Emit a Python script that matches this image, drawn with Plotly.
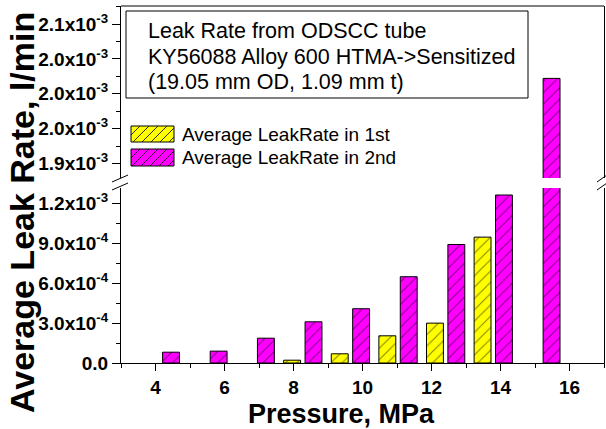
import plotly.graph_objects as go

# ---------------- data ----------------
pressure = [4.14, 5.52, 6.89, 8.27, 9.65, 11.03, 12.41, 13.79, 15.17]  # MPa
leak_1st = [None, None, None, 2.1e-5, 6.9e-5, 2.04e-4, 2.99e-4, 9.44e-4, None]
leak_2nd = [8.1e-5, 8.9e-5, 1.86e-4, 3.09e-4, 4.07e-4, 6.47e-4, 8.89e-4, 1.26e-3, 2.022e-3]

series_names = ["Average LeakRate in 1st", "Average LeakRate in 2nd"]
series_colors = ["#FFFF00", "#FF00FF"]

x_tickvals = [4, 6, 8, 10, 12, 14, 16]
x_minorvals = [3, 5, 7, 9, 11, 13, 15, 17]
lower_tickvals = [0, 3e-4, 6e-4, 9e-4, 1.2e-3]
lower_ticktext = ["0.0", "3.0x10<sup>-4</sup>", "6.0x10<sup>-4</sup>",
                  "9.0x10<sup>-4</sup>", "1.2x10<sup>-3</sup>"]
lower_minorvals = [1.5e-4, 4.5e-4, 7.5e-4, 1.05e-3]
upper_tickvals = [1.90e-3, 1.95e-3, 2.00e-3, 2.05e-3, 2.10e-3]
upper_ticktext = ["1.9x10<sup>-3</sup>", "2.0x10<sup>-3</sup>", "2.0x10<sup>-3</sup>",
                  "2.0x10<sup>-3</sup>", "2.1x10<sup>-3</sup>"]
upper_minorvals = [1.925e-3, 1.975e-3, 2.025e-3, 2.075e-3, 2.125e-3]

title_lines = ["Leak Rate from ODSCC tube",
               "KY56088 Alloy 600 HTMA->Sensitized",
               "(19.05 mm OD, 1.09 mm t)"]

# ---------------- geometry ----------------
W, H = 606, 429
ML, MR, MT, MB = 121, 2, 6, 66
PW, PH = W - ML - MR, H - MT - MB


def px(X):
    return (X - ML) / PW


def py(Y):
    return (H - MB - Y) / PH


FONT = "Arial, Liberation Sans, sans-serif"

fig = go.Figure()

for yax in ["y", "y2"]:
    for name, vals, col in zip(series_names, [leak_1st, leak_2nd], series_colors):
        fig.add_trace(go.Bar(
            x=pressure, y=vals, name=name, xaxis="x", yaxis=yax,
            showlegend=False,
            marker=dict(color=col, line=dict(color="black", width=1),
                        pattern=dict(shape="/", fgcolor="black", bgcolor=col,
                                     size=8, solidity=0.12)),
        ))

ytickfont = dict(family=FONT, size=19, color="black", weight="bold")
xtickfont = dict(family=FONT, size=19, color="black", weight="bold")

fig.update_layout(
    width=W, height=H,
    margin=dict(l=ML, r=MR, t=MT, b=MB),
    paper_bgcolor="white", plot_bgcolor="white",
    barmode="group", bargap=0.095, bargroupgap=0.21,
    xaxis=dict(range=[3, 17], tickmode="array", tickvals=x_tickvals,
               ticks="outside", ticklen=7, tickwidth=1, tickcolor="black",
               showline=True, linecolor="black", linewidth=1,
               showgrid=False, zeroline=False, anchor="y", tickfont=xtickfont,
               minor=dict(tickmode="array", tickvals=x_minorvals, ticks="outside",
                          ticklen=4, tickcolor="black")),
    yaxis=dict(domain=[0, py(188)], range=[0, 1.3125e-3], tickmode="array",
               tickvals=lower_tickvals, ticktext=lower_ticktext,
               ticks="outside", ticklen=8, tickwidth=1, tickcolor="black",
               showline=True, mirror=True, linecolor="black", linewidth=1,
               showgrid=False, zeroline=False, anchor="x", tickfont=ytickfont,
               minor=dict(tickmode="array", tickvals=lower_minorvals, ticks="outside",
                          ticklen=4, tickcolor="black")),
    yaxis2=dict(domain=[py(178), 1], range=[1.8792e-3, 2.1258e-3], tickmode="array",
                tickvals=upper_tickvals, ticktext=upper_ticktext,
                ticks="outside", ticklen=8, tickwidth=1, tickcolor="black",
                showline=True, mirror=True, linecolor="black", linewidth=1,
                showgrid=False, zeroline=False, anchor="x", tickfont=ytickfont,
                minor=dict(tickmode="array", tickvals=upper_minorvals, ticks="outside",
                           ticklen=4, tickcolor="black")),
)

shapes = []
# top frame line
shapes.append(dict(type="line", xref="paper", yref="paper", x0=0, x1=1, y0=1, y1=1,
                   line=dict(color="black", width=1)))
# axis-break marks
for (xa, xb) in [(112, 128), (597, 607)]:
    for (ya, yb) in [(182, 175), (190, 183)]:
        shapes.append(dict(type="line", xref="paper", yref="paper",
                           x0=px(xa), x1=px(xb), y0=py(ya), y1=py(yb),
                           line=dict(color="black", width=1)))
# title box
shapes.append(dict(type="rect", xref="paper", yref="paper",
                   x0=px(126), x1=px(528), y0=py(98), y1=py(11),
                   line=dict(color="black", width=1), fillcolor="white", layer="above"))

annotations = []
for text, yc in zip(title_lines, [31, 57, 82]):
    annotations.append(dict(text=text, xref="paper", yref="paper", x=px(146), y=py(yc),
                            xanchor="left", yanchor="middle", showarrow=False,
                            font=dict(family=FONT, size=21.5, color="black")))

# legend (swatches + labels)
for name, col, (y0, y1) in zip(series_names, series_colors, [(126, 142), (149, 166)]):
    shapes.append(dict(type="rect", xref="paper", yref="paper",
                       x0=px(131), x1=px(174), y0=py(y1), y1=py(y0),
                       line=dict(color="black", width=1), fillcolor=col, layer="above"))
    path = ""
    step = 9
    X0, X1 = 131, 174
    h = y1 - y0
    s = X0 - h
    while s < X1:
        xa, ya = s, y1
        xb, yb = s + h, y0
        if xa < X0:
            ya = y1 - (X0 - xa)
            xa = X0
        if xb > X1:
            yb = y0 + (xb - X1)
            xb = X1
        if xb > xa:
            path += f"M{px(xa)},{py(ya)} L{px(xb)},{py(yb)} "
        s += step
    shapes.append(dict(type="path", xref="paper", yref="paper", path=path,
                       line=dict(color="black", width=0.8), layer="above"))
    annotations.append(dict(text=name, xref="paper", yref="paper", x=px(180),
                            y=py((y0 + y1) / 2), xanchor="left", yanchor="middle",
                            showarrow=False,
                            font=dict(family=FONT, size=19, color="black")))

# axis titles
annotations.append(dict(text="Pressure, MPa", xref="paper", yref="paper",
                        x=px(341), y=py(414), xanchor="center", yanchor="middle",
                        showarrow=False,
                        font=dict(family=FONT, size=27, color="black", weight="bold")))
annotations.append(dict(text="Average Leak Rate, l/min", xref="paper", yref="paper",
                        x=px(22), y=py(213), xanchor="center", yanchor="middle",
                        textangle=-90, showarrow=False,
                        font=dict(family=FONT, size=34, color="black", weight="bold")))

fig.update_layout(shapes=shapes, annotations=annotations)

fig.write_html("out.html", config={"displayModeBar": False},
               post_script="document.body.style.margin='0';")
